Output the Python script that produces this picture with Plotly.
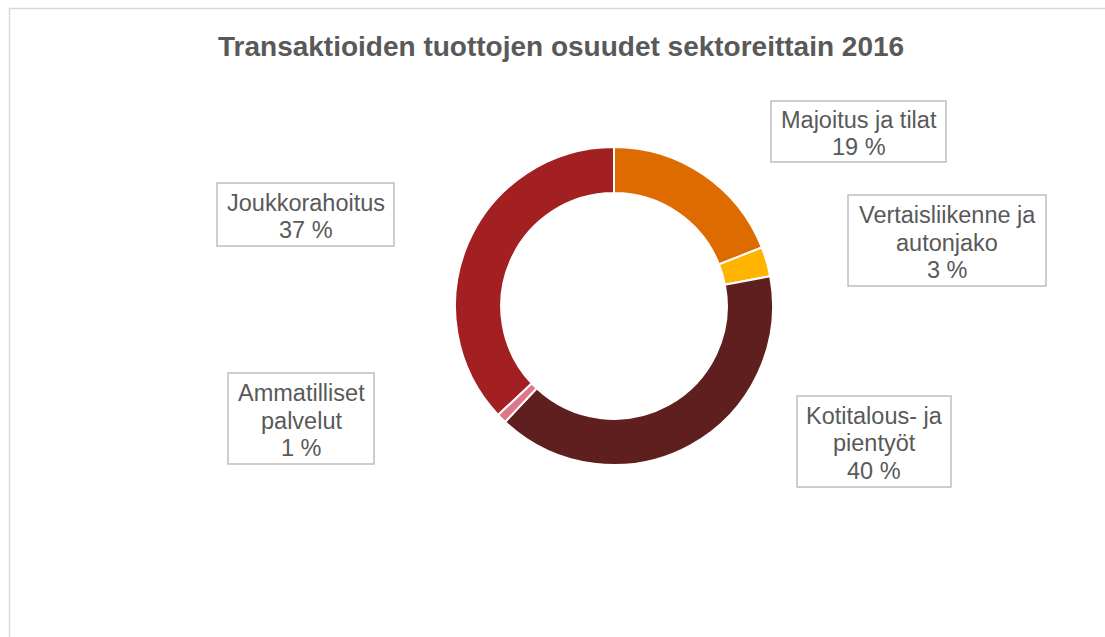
import plotly.graph_objects as go

W, H = 1105, 637

sectors = ["Majoitus ja tilat", "Vertaisliikenne ja autonjako", "Kotitalous- ja pientyöt",
           "Ammatilliset palvelut", "Joukkorahoitus"]
shares = [19, 3, 40, 1, 37]
label_lines = [["Majoitus ja tilat"], ["Vertaisliikenne ja", "autonjako"],
               ["Kotitalous- ja", "pientyöt"], ["Ammatilliset", "palvelut"], ["Joukkorahoitus"]]
colors = ["#DD6B00", "#FFB400", "#5F1F1E", "#E07788", "#A21F22"]
title = "Transaktioiden tuottojen osuudet sektoreittain 2016"

# label box geometry in pixels: (left, right, top, bottom)
boxes = [(771, 946, 101, 162), (848, 1046, 195, 286), (797, 951, 396, 487),
         (228, 374, 373, 464), (217, 394, 183, 246)]

def px(x):
    return x / W

def py(y):
    return 1 - y / H

fig = go.Figure()
cx, cy, r = 614, 306, 159
fig.add_trace(go.Pie(
    labels=sectors, values=shares, sort=False, direction="clockwise", rotation=0,
    hole=0.71, textinfo="none", hoverinfo="label+percent",
    marker=dict(colors=colors, line=dict(color="white", width=2)),
    domain=dict(x=[px(cx - r), px(cx + r)], y=[py(cy + r), py(cy - r)]),
    showlegend=False,
))

shapes = [dict(type="rect", xref="paper", yref="paper", x0=px(9.5), x1=px(1112),
               y0=py(660), y1=py(8.5), line=dict(color="#D9D9D9", width=1.5),
               fillcolor="rgba(0,0,0,0)")]
annotations = [dict(text="<b>%s</b>" % title, x=px(561), y=py(46), xref="paper", yref="paper",
                    showarrow=False, xanchor="center", yanchor="middle",
                    font=dict(family="Liberation Sans, Arial", size=28, color="#595959"))]

LS = 27.5
for lines, v, (l, rr, t, b) in zip(label_lines, shares, boxes):
    shapes.append(dict(type="rect", xref="paper", yref="paper", x0=px(l), x1=px(rr),
                       y0=py(b), y1=py(t), line=dict(color="#BFBFBF", width=1.5),
                       fillcolor="white", layer="below"))
    all_lines = lines + ["%d %%" % v]
    n = len(all_lines)
    mid = (t + b) / 2 + 2
    for i, s in enumerate(all_lines):
        yc = mid + (i - (n - 1) / 2) * LS
        annotations.append(dict(text=s, x=px((l + rr) / 2), y=py(yc), xref="paper", yref="paper",
                                showarrow=False, xanchor="center", yanchor="middle",
                                font=dict(family="Liberation Sans, Arial", size=23.5, color="#595959")))

fig.update_layout(width=W, height=H, margin=dict(l=0, r=0, t=0, b=0),
                  paper_bgcolor="white", plot_bgcolor="white",
                  shapes=shapes, annotations=annotations)
fig.write_html("out.html", config={"displayModeBar": False},
               post_script="document.body.style.margin='0';document.body.style.overflow='hidden';")
